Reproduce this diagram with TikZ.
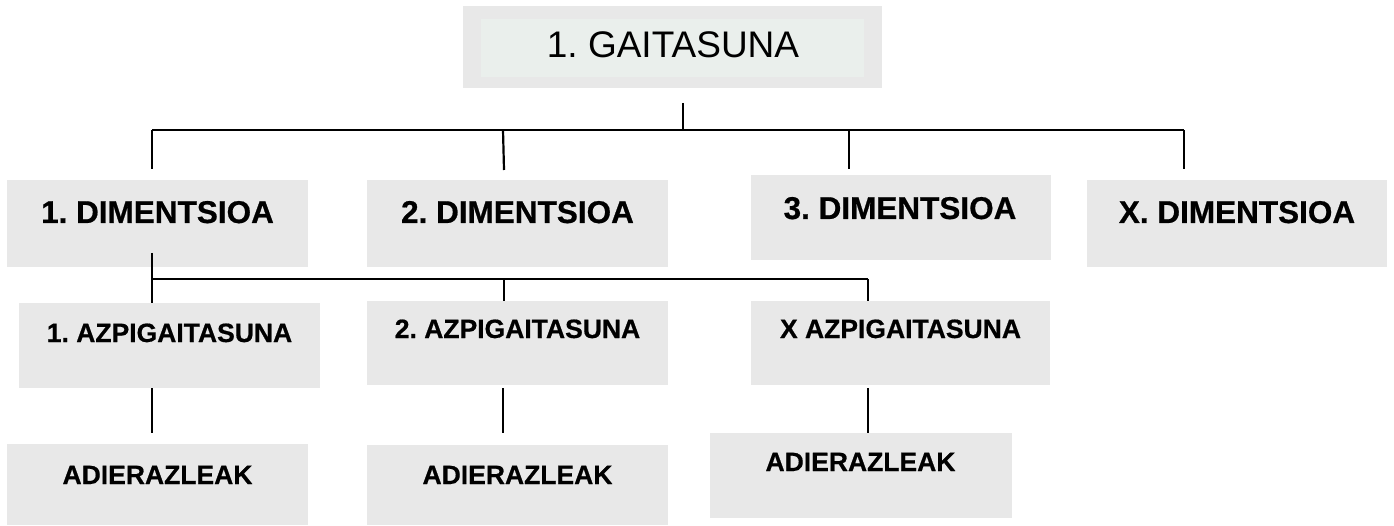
\documentclass[tikz,border=0pt]{standalone}
\usepackage{fontspec}
\usepackage{graphicx}
\setmainfont{Liberation Sans}
\newfontfamily\heavyfont{Liberation Sans Bold}[FakeBold=0.6]
\frenchspacing
\definecolor{boxgray}{HTML}{E8E8E8}
\definecolor{innergray}{HTML}{EAEFEC}
\tikzset{
  graybox/.style={rectangle, fill=boxgray, draw=none, inner sep=0pt, anchor=north west},
  toptext/.style={anchor=base, inner sep=0pt, font=\fontsize{37}{44}\selectfont},
  dimtext/.style={anchor=base, inner sep=0pt, font=\heavyfont\fontsize{31.5}{38}\selectfont},
  azpitext/.style={anchor=base, inner sep=0pt, font=\heavyfont\fontsize{26.5}{32}\selectfont},
  aditext/.style={anchor=base, inner sep=0pt, font=\heavyfont\fontsize{26.5}{32}\selectfont},
  conn/.style={draw=black, line width=2.2pt}
}
\begin{document}
\begin{tikzpicture}[x=1pt,y=-1pt]
\useasboundingbox (0,0) rectangle (1394,526);
% top box
\node[graybox, minimum width=419pt, minimum height=82pt] (g) at (463,6) {};
\node[rectangle, fill=innergray, inner sep=0pt, anchor=north west, minimum width=383pt, minimum height=58pt] (gi) at (481,19) {};
\node[toptext] (gt) at (673,58) {1. GAITASUNA};
% dimension boxes
\node[graybox, minimum width=301pt, minimum height=87pt] (d1) at (7,180) {};
\node[graybox, minimum width=301pt, minimum height=87pt] (d2) at (367,180) {};
\node[graybox, minimum width=300pt, minimum height=85pt] (d3) at (751,175) {};
\node[graybox, minimum width=300pt, minimum height=87pt] (dx) at (1087,180) {};
\node[dimtext] (d1t) at (157.5,223) {1. DIMENTSIOA};
\node[dimtext] (d2t) at (517.5,223) {2. DIMENTSIOA};
\node[dimtext] (d3t) at (900,219) {3. DIMENTSIOA};
\node[dimtext] (dxt) at (1237,223) {X. DIMENTSIOA};
% sub boxes
\node[graybox, minimum width=301pt, minimum height=85pt] (a1) at (19,303) {};
\node[graybox, minimum width=301pt, minimum height=84pt] (a2) at (367,301) {};
\node[graybox, minimum width=299pt, minimum height=84pt] (ax) at (751,301) {};
\node[azpitext] (a1t) at (169.5,342) {1. AZPIGAITASUNA};
\node[azpitext] (a2t) at (517.5,338) {2. AZPIGAITASUNA};
\node[azpitext] (axt) at (900.5,338) {X AZPIGAITASUNA};
% indicator boxes
\node[graybox, minimum width=301pt, minimum height=81pt] (i1) at (7,444) {};
\node[graybox, minimum width=301pt, minimum height=80pt] (i2) at (367,445) {};
\node[graybox, minimum width=302pt, minimum height=85pt] (ix) at (710,433) {};
\node[aditext] (i1t) at (157.5,484) {ADIERAZLEAK};
\node[aditext] (i2t) at (517.5,484) {ADIERAZLEAK};
\node[aditext] (ixt) at (860.5,471) {ADIERAZLEAK};
% connector coordinates
\coordinate (gs) at (683,103);
\coordinate (gj) at (683,130);
\coordinate (h1) at (152,130);
\coordinate (h2) at (503,130);
\coordinate (h3) at (849,130);
\coordinate (h4) at (1184,130);
\coordinate (e1) at (152,169);
\coordinate (e2) at (504,170);
\coordinate (e3) at (849,169);
\coordinate (e4) at (1184,169);
\coordinate (s1) at (152,253);
\coordinate (k1) at (152,279);
\coordinate (k2) at (504,279);
\coordinate (k3) at (868,279);
% connectors level 1
\draw[conn] (gs) -- (gj);
\draw[conn] (h1) -- (h4);
\draw[conn] (h1) -- (e1);
\draw[conn] (h2) -- (e2);
\draw[conn] (h3) -- (e3);
\draw[conn] (h4) -- (e4);
% connectors level 2
\draw[conn] (s1) -- (k1) -- (k3);
\draw[conn] (k1) -- (k1 |- a1.north);
\draw[conn] (k2) -- (k2 |- a2.north);
\draw[conn] (k3) -- (k3 |- ax.north);
% connectors level 3
\draw[conn] (152,388) coordinate (l1) -- (l1 |- ix.north) coordinate (m1);
\draw[conn] (503,388) coordinate (l2) -- (l2 |- ix.north) coordinate (m2);
\draw[conn] (868,388) coordinate (l3) -- (l3 |- ix.north) coordinate (m3);
\end{tikzpicture}
\end{document}
